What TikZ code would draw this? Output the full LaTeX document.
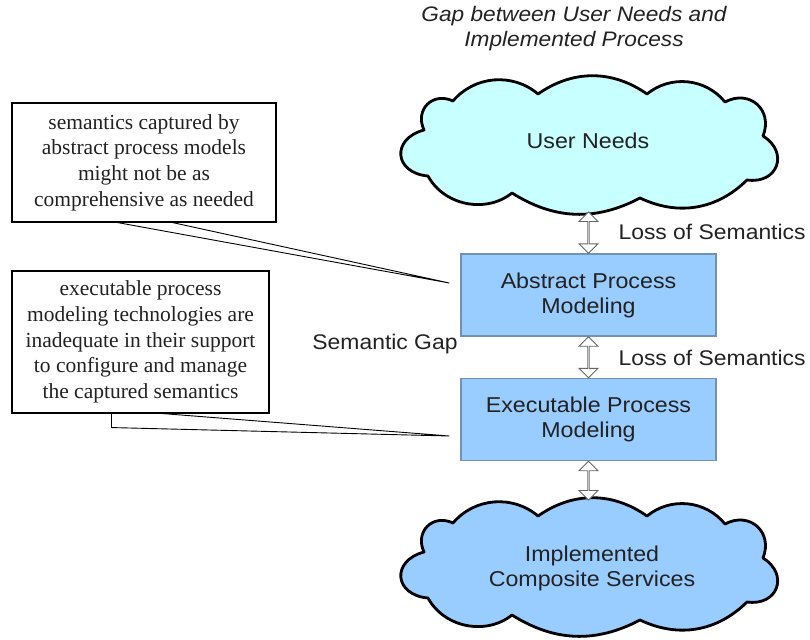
\documentclass[tikz,border=0pt]{standalone}
\usepackage{fontspec}
\setmainfont{Liberation Serif}
\setsansfont{Liberation Sans}[FakeStretch=1.08]
\usetikzlibrary{shapes.arrows,calc}

\definecolor{skycloud}{HTML}{C8FFFF}
\definecolor{paleblue}{HTML}{99CCFF}
\definecolor{boxedge}{HTML}{7391B3}
\definecolor{inkgray}{HTML}{222222}

% outline of a cloud, in pixels around its centre
\newcommand\puffoutline{%
  (-168,-18) to[bend left=70,looseness=1.4] (-139,-47)
  to[bend left=45] (-54,-54)
  to[bend left=35] (55,-54)
  to[bend left=45] (133,-46)
  to[bend left=70,looseness=1.4] (171,-12)
  to[bend left=78,looseness=1.7] (155,32)
  to[bend left=35] (48,50)
  to[bend left=30] (-80,45)
  to[bend left=50] (-164,28)
  to[bend left=80,looseness=1.9] (-168,-18) -- cycle}

\tikzset{
  puffy/.style={draw=black, line width=2.8pt, line join=round},
  cloudtext/.style={text=inkgray, font=\sffamily\fontsize{21.5}{25}\selectfont, align=center},
  stage/.style={rectangle, draw=boxedge, line width=1.4pt, fill=paleblue,
    minimum width=255, minimum height=82, text=inkgray,
    font=\sffamily\fontsize{21.5}{25}\selectfont, align=center},
  note/.style={rectangle, draw=black, line width=1.1pt, fill=white,
    font=\rmfamily\fontsize{21.5}{25.6}\selectfont, align=center,
    text=inkgray, inner sep=0pt},
  hollow/.style={double arrow, draw=gray!80!black, fill=white, line width=0.9pt,
    shape border rotate=90, minimum width=19, double arrow head extend=5.5,
    inner sep=0pt},
  caption/.style={text=inkgray, font=\sffamily\fontsize{21.2}{25}\selectfont},
  wedge/.style={draw=black, line width=0.9pt},
}

\begin{document}
\begin{tikzpicture}[x=1pt,y=-1pt]
\useasboundingbox (0,0) rectangle (810,639);

% title
\node[text=inkgray, font=\sffamily\itshape\fontsize{21}{25}\selectfont, align=center]
  (title) at (574,29) {Gap between User Needs and\\Implemented Process};

% upper cloud
\begin{scope}[shift={(592,148)}]
  \draw[puffy, fill=skycloud] \puffoutline;
  \node[cloudtext] (needs) at (-4,-7) {User Needs};
  \coordinate (needs-s) at (-3.5,64);
\end{scope}

% lower cloud
\begin{scope}[shift={(592,570)}]
  \draw[puffy, fill=paleblue] \puffoutline;
  \node[cloudtext] (impl) at (0,-2) {Implemented\\Composite Services};
  \coordinate (impl-n) at (-3.5,-70);
\end{scope}

% process stages
\node[stage] (abstract) at (588.5,295) {Abstract Process\\Modeling};
\node[stage] (exec) at (588.5,419.5) {Executable Process\\Modeling};

% hollow double arrows between the stages
\path let \p1=(needs-s), \p2=(abstract.north), \n1={\y1-\y2} in
  node[hollow, minimum height=\n1] (ar1) at ($(needs-s)!0.5!(abstract.north)$) {};
\path let \p1=(abstract.south), \p2=(exec.north), \n1={\y1-\y2} in
  node[hollow, minimum height=\n1] (ar2) at ($(abstract.south)!0.5!(exec.north)$) {};
\path let \p1=(exec.south), \p2=(impl-n), \n1={\y1-\y2} in
  node[hollow, minimum height=\n1] (ar3) at ($(exec.south)!0.5!(impl-n)$) {};

% side labels
\node[caption, anchor=west] (loss1) at (615,232) {Loss of Semantics};
\node[caption, anchor=west] (loss2) at (615,358) {Loss of Semantics};
\node[caption] (gap) at (385,344) {Semantic Gap};

% callout notes
\node[note, minimum width=264, minimum height=119] (note1) at (144,162.5)
  {semantics captured by\\abstract process models\\might not be as\\comprehensive as needed};
\node[note, minimum width=257, minimum height=142] (note2) at (140.5,342)
  {executable process\\modeling technologies are\\inadequate in their support\\to configure and manage\\the captured semantics};

% callout pointers
\coordinate (tip1) at ($(abstract.west)+(-11,-12)$);
\coordinate (tip2) at ($(exec.west)+(-11,16.5)$);
\coordinate (b1a) at ($(note1.south west)+(106,0)$);
\coordinate (b1b) at ($(note1.south west)+(161,0)$);
\coordinate (b2a) at ($(note2.south west)+(100,0)$);
\coordinate (b2b) at ($(note2.south west)+(151,0)$);
\draw[wedge] (b1a) -- (tip1) -- (b1b);
\draw[wedge] (b2a) -- ++(0,14) -- (tip2) -- (b2b);
\end{tikzpicture}
\end{document}
